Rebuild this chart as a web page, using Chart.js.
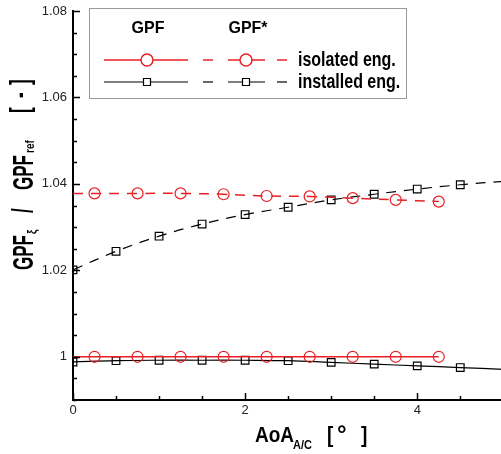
<!DOCTYPE html>
<html>
<head>
<meta charset="utf-8">
<script src="https://cdn.jsdelivr.net/npm/chart.js@4"></script>
<style>
  html, body { margin: 0; padding: 0; background: #fff; overflow: hidden; }
  canvas { display: block; }
</style>
</head>
<body>
<canvas id="c" width="510" height="454"></canvas>
<script>
// angle of attack samples
const isoX = [0, 0.25, 0.75, 1.25, 1.75, 2.25, 2.75, 3.25, 3.75, 4.25]
const instX = [0, 0.5, 1, 1.5, 2, 2.5, 3, 3.5, 4, 4.5, 5]

// GPF (solid) and GPF* (dashed)
const isoGPF = [1.0, 1.0, 1.0, 1.0, 1.0, 1.0, 1.0, 1.0, 1.0, 1.0]
const isoGPFstar = [1.0378, 1.0378, 1.0378, 1.0378, 1.0376, 1.0372, 1.0371, 1.0367, 1.0363, 1.0359]
const instGPF = [0.9988, 0.9991, 0.9992, 0.9992, 0.9992, 0.9991, 0.9987, 0.9983, 0.9979, 0.9975, 0.9971]
const instGPFstar = [1.0201, 1.0244, 1.0279, 1.0307, 1.0329, 1.0346, 1.0363, 1.0376, 1.0388, 1.0398, 1.0406]

const xTicks = [0, 2, 4]
const yTicks = [1, 1.02, 1.04, 1.06, 1.08]

const RED = 'rgb(232,32,38)'
const FONT = '"Liberation Sans", Arial, sans-serif'

const pts = (xs, ys) => xs.map((x, i) => ({ x, y: ys[i] }))
const isoR = isoX.map((x, i) => (i === 0 ? 0 : 5.5))
const instR = instX.map((x, i) => (i === instX.length - 1 ? 0 : 5.4))

function txt(ctx, s, x, y, font, sy, align) {
  ctx.save()
  ctx.translate(x, y)
  ctx.scale(1, sy)
  ctx.font = font
  ctx.textAlign = align || 'left'
  ctx.textBaseline = 'alphabetic'
  ctx.fillStyle = '#000'
  ctx.fillText(s, 0, 0)
  ctx.restore()
}

const decor = {
  id: 'decor',
  afterDraw(chart) {
    const { ctx, chartArea: a, scales: { x, y } } = chart
    ctx.save()
    ctx.strokeStyle = '#000'
    ctx.lineWidth = 1.5
    // inward ticks
    for (let v = 0; v <= 5.001; v += 0.5) {
      const px = Math.round(x.getPixelForValue(v)) + 0.5
      const len = xTicks.includes(Math.round(v * 10) / 10) ? 7 : 4
      ctx.beginPath(); ctx.moveTo(px, a.bottom); ctx.lineTo(px, a.bottom - len); ctx.stroke()
    }
    for (let k = 0; k <= 18; k++) {
      const v = 0.99 + k * 0.005
      const py = Math.round(y.getPixelForValue(v)) + 0.5
      const major = yTicks.some((t) => Math.abs(t - v) < 1e-6)
      ctx.beginPath(); ctx.moveTo(a.left, py); ctx.lineTo(a.left + (major ? 7 : 4), py); ctx.stroke()
    }

    // legend box
    ctx.fillStyle = '#fff'
    ctx.fillRect(89, 8, 317, 90)
    ctx.strokeStyle = '#9a9a9a'
    ctx.lineWidth = 1
    ctx.strokeRect(89.5, 8.5, 317, 90)
    txt(ctx, 'GPF', 148, 33, 'bold 16px ' + FONT, 1.05, 'center')
    txt(ctx, 'GPF*', 248, 33, 'bold 16px ' + FONT, 1.05, 'center')
    const rows = [
      { yy: 60, color: RED, label: 'isolated eng.', shape: 'circle' },
      { yy: 82, color: '#000', label: 'installed eng.', shape: 'rect' },
    ]
    rows.forEach((r) => {
      ctx.strokeStyle = r.color
      ctx.lineWidth = r.shape === 'circle' ? 1.5 : 1.2
      const seg = (x0, x1) => { ctx.beginPath(); ctx.moveTo(x0, r.yy); ctx.lineTo(x1, r.yy); ctx.stroke() }
      seg(104, 188)
      seg(203, 213); seg(228, 265); seg(277, 287)
      ;[147, 246].forEach((cx) => {
        ctx.beginPath()
        if (r.shape === 'circle') ctx.arc(cx, r.yy, 6, 0, Math.PI * 2)
        else ctx.rect(cx - 3.5, r.yy - 3.5, 7, 7)
        ctx.fillStyle = '#fff'
        ctx.fill()
        ctx.stroke()
      })
      txt(ctx, r.label, 298, r.yy + 6, 'bold 16px ' + FONT, 1.25)
    })

    // x title
    txt(ctx, 'AoA', 255, 442, 'bold 19px ' + FONT, 1.18)
    txt(ctx, 'A/C', 293, 449, 'bold 11px ' + FONT, 1.1)
    txt(ctx, '[', 327, 442, 'bold 19px ' + FONT, 1.18)
    txt(ctx, '°', 337, 442, 'bold 24px ' + FONT, 1)
    txt(ctx, ']', 361, 442, 'bold 19px ' + FONT, 1.18)

    // y title (rotated)
    ctx.save()
    ctx.translate(33, 270)
    ctx.rotate(-Math.PI / 2)
    txt(ctx, 'GPF', 0, 0, 'bold 17px ' + FONT, 1.75)
    txt(ctx, 'ξ', 36, 3, 'bold 10px ' + FONT, 1.3)
    txt(ctx, '/', 57, 0, 'bold 17px ' + FONT, 1.75)
    txt(ctx, 'GPF', 80, 0, 'bold 17px ' + FONT, 1.75)
    txt(ctx, 'ref', 117, 1, 'bold 10px ' + FONT, 1.2)
    txt(ctx, '[', 157, -4, 'bold 17px ' + FONT, 1.6)
    txt(ctx, '-', 172, -4, 'bold 17px ' + FONT, 1.6)
    txt(ctx, ']', 185, -4, 'bold 17px ' + FONT, 1.6)
    ctx.restore()
    ctx.restore()
  },
}

new Chart(document.getElementById('c'), {
  type: 'line',
  data: {
    datasets: [
      { data: pts(isoX, isoGPF), borderColor: RED, borderWidth: 1.5, pointStyle: 'circle', pointRadius: isoR, pointBorderColor: RED, pointBorderWidth: 1.2, pointBackgroundColor: 'transparent', tension: 0.4 },
      { data: pts(isoX, isoGPFstar), borderColor: RED, borderWidth: 1.5, borderDash: [10, 8], pointStyle: 'circle', pointRadius: isoR, pointBorderColor: RED, pointBorderWidth: 1.2, pointBackgroundColor: 'transparent', tension: 0.4 },
      { data: pts(instX, instGPF), borderColor: '#000', borderWidth: 1.2, pointStyle: 'rect', pointRadius: instR, pointBorderColor: '#000', pointBorderWidth: 1.2, pointBackgroundColor: 'transparent', tension: 0.4 },
      { data: pts(instX, instGPFstar), borderColor: '#000', borderWidth: 1.2, borderDash: [10, 8], pointStyle: 'rect', pointRadius: instR, pointBorderColor: '#000', pointBorderWidth: 1.2, pointBackgroundColor: 'transparent', tension: 0.4 },
    ],
  },
  options: {
    responsive: false,
    animation: false,
    devicePixelRatio: 1,
    layout: { padding: { top: 11, left: 0, right: 0, bottom: 0 } },
    plugins: { legend: { display: false }, tooltip: { enabled: false } },
    scales: {
      x: {
        type: 'linear', min: 0, max: 5,
        afterBuildTicks: (s) => { s.ticks = xTicks.map((v) => ({ value: v })) },
        afterFit: (s) => { s.height = 54; s.paddingLeft = 0; s.paddingRight = 0 },
        grid: { display: false, drawTicks: false },
        border: { display: true, color: '#000', width: 2 },
        ticks: { padding: 3, color: '#222', font: { family: FONT, size: 13 }, callback: (v) => String(v) },
      },
      y: {
        type: 'linear', min: 0.99, max: 1.08,
        afterBuildTicks: (s) => { s.ticks = yTicks.map((v) => ({ value: v })) },
        afterFit: (s) => { s.width = 73; s.paddingTop = 0; s.paddingBottom = 0 },
        grid: { display: false, drawTicks: false },
        border: { display: true, color: '#000', width: 2 },
        ticks: { padding: 6, color: '#222', font: { family: FONT, size: 13 }, callback: (v) => String(Math.round(v * 100) / 100) },
      },
    },
  },
  plugins: [decor],
})
</script>
</body>
</html>
